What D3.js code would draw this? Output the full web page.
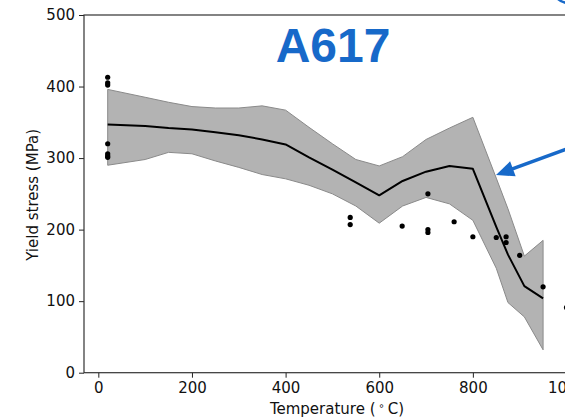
<!DOCTYPE html>
<html>
<head>
<meta charset="utf-8">
<script src="https://cdn.jsdelivr.net/npm/d3@7"></script>
<style>
  html, body { margin: 0; padding: 0; background: #fff; }
  svg { display: block; }
</style>
</head>
<body>
<svg id="chart" width="565" height="418"></svg>
<script>
// Model prediction grid (temperature, °C)
const temps = [20, 100, 150, 200, 250, 300, 350, 400, 450, 500, 550, 600, 650, 700, 750, 800, 850, 875, 910, 950];
// Mean prediction and uncertainty band (MPa)
const meanStress  = [347, 345, 342, 340, 336, 332, 326, 319, 301, 284, 266, 248, 268, 281, 289, 285, 204, 165, 121, 104];
const upperStress = [396, 385, 378, 372, 370, 370, 373, 367, 343, 320, 298, 289, 302, 326, 342, 357, 272, 229, 163, 185];
const lowerStress = [290, 298, 308, 306, 296, 287, 277, 271, 262, 250, 233, 209, 233, 245, 236, 213, 146,  98,  78,  32];

// Measured yield stress
const expTemps  = [20, 20, 20, 20, 20, 20, 20, 538, 538, 649, 704, 704, 704, 760, 800, 850, 871, 871, 900, 950, 1000];
const expStress = [413, 405, 402, 320, 306, 303, 301, 217, 207, 205, 250, 200, 196, 211, 190, 189, 190, 182, 164, 120, 91];

const xTicks = [0, 200, 400, 600, 800, 1000];
const yTicks = [0, 100, 200, 300, 400, 500];

const titleText = "A617";
const xLabel = "Temperature (";
const yLabel = "Yield stress (MPa)";

const svg = d3.select("#chart");
const plot = { left: 84, top: 15, right: 588.5, bottom: 372.7 };

const x = d3.scaleLinear().domain([-30.6, 1047]).range([plot.left, plot.right]);
const y = d3.scaleLinear().domain([0, 500]).range([plot.bottom, plot.top]);

const font = "DejaVu Sans, Verdana, sans-serif";

// Uncertainty band
const bandData = temps.map((t, i) => ({ t, lo: lowerStress[i], hi: upperStress[i] }));
svg.append("path")
  .datum(bandData)
  .attr("d", d3.area().x(d => x(d.t)).y0(d => y(d.lo)).y1(d => y(d.hi)))
  .attr("fill", "#b3b3b3")
  .attr("stroke", "#8a8a8a")
  .attr("stroke-width", 1);

// Mean line
svg.append("path")
  .datum(temps.map((t, i) => ({ t, v: meanStress[i] })))
  .attr("d", d3.line().x(d => x(d.t)).y(d => y(d.v)))
  .attr("fill", "none")
  .attr("stroke", "#000")
  .attr("stroke-width", 2)
  .attr("stroke-linejoin", "round");

// Measurements
svg.append("g").selectAll("circle")
  .data(expTemps.map((t, i) => ({ t, v: expStress[i] })))
  .join("circle")
  .attr("cx", d => x(d.t))
  .attr("cy", d => y(d.v))
  .attr("r", 2.6)
  .attr("fill", "#000");

// Axes
const xAxis = svg.append("g")
  .attr("transform", `translate(0,${plot.bottom})`)
  .call(d3.axisBottom(x).tickValues(xTicks).tickFormat(d3.format("d"))
    .tickSize(5).tickPadding(5).tickSizeOuter(0));
const yAxis = svg.append("g")
  .attr("transform", `translate(${plot.left},0)`)
  .call(d3.axisLeft(y).tickValues(yTicks).tickFormat(d3.format("d"))
    .tickSize(5).tickPadding(4).tickSizeOuter(0));

[xAxis, yAxis].forEach(g => {
  g.select(".domain").remove();
  g.selectAll("line").attr("stroke", "#222").attr("stroke-width", 1);
  g.selectAll("text").attr("font-family", font).attr("font-size", 15).attr("fill", "#111");
});

// Frame
svg.append("rect")
  .attr("x", plot.left).attr("y", plot.top)
  .attr("width", plot.right - plot.left).attr("height", plot.bottom - plot.top)
  .attr("fill", "none").attr("stroke", "#333").attr("stroke-width", 1.2);

// Axis titles
const xt = svg.append("text")
  .attr("x", 337)
  .attr("y", 414)
  .attr("text-anchor", "middle")
  .attr("font-family", font)
  .attr("font-size", 15)
  .attr("fill", "#111");
xt.append("tspan").text(xLabel + "\u2009");
xt.append("tspan").attr("dy", -5).attr("font-size", 10).text("\u2218");
xt.append("tspan").attr("dy", 5).text("\u2009C)");

svg.append("text")
  .attr("transform", `translate(38,${(plot.top + plot.bottom) / 2 + 1}) rotate(-90)`)
  .attr("text-anchor", "middle")
  .attr("font-family", font)
  .attr("font-size", 15)
  .attr("fill", "#111")
  .text(yLabel);

// Title
const blue = "#1769c9";
svg.append("text")
  .attr("x", 333)
  .attr("y", 62)
  .attr("text-anchor", "middle")
  .attr("font-family", "Liberation Sans, Arial, sans-serif")
  .attr("font-weight", "bold")
  .attr("font-size", 48)
  .attr("fill", blue)
  .text(titleText);

// Callout arrow pointing at the drop in strength
const tip = [496, 175], tail = [580, 144];
const dx = tail[0] - tip[0], dy = tail[1] - tip[1];
const len = Math.hypot(dx, dy);
const ux = dx / len, uy = dy / len;
const headLen = 18, headHalf = 8;
const base = [tip[0] + ux * headLen, tip[1] + uy * headLen];
svg.append("line")
  .attr("x1", tail[0]).attr("y1", tail[1])
  .attr("x2", base[0] - ux * 2).attr("y2", base[1] - uy * 2)
  .attr("stroke", blue).attr("stroke-width", 3.5);
svg.append("path")
  .attr("d", `M${tip[0]},${tip[1]} L${base[0] - uy * headHalf},${base[1] + ux * headHalf} L${base[0] + uy * headHalf},${base[1] - ux * headHalf} Z`)
  .attr("fill", blue);

// Edge of the neighbouring callout ring
svg.append("path")
  .attr("d", "M558,-1 Q561,2 567,3")
  .attr("fill", "none")
  .attr("stroke", blue)
  .attr("stroke-width", 2.5);
</script>
</body>
</html>
